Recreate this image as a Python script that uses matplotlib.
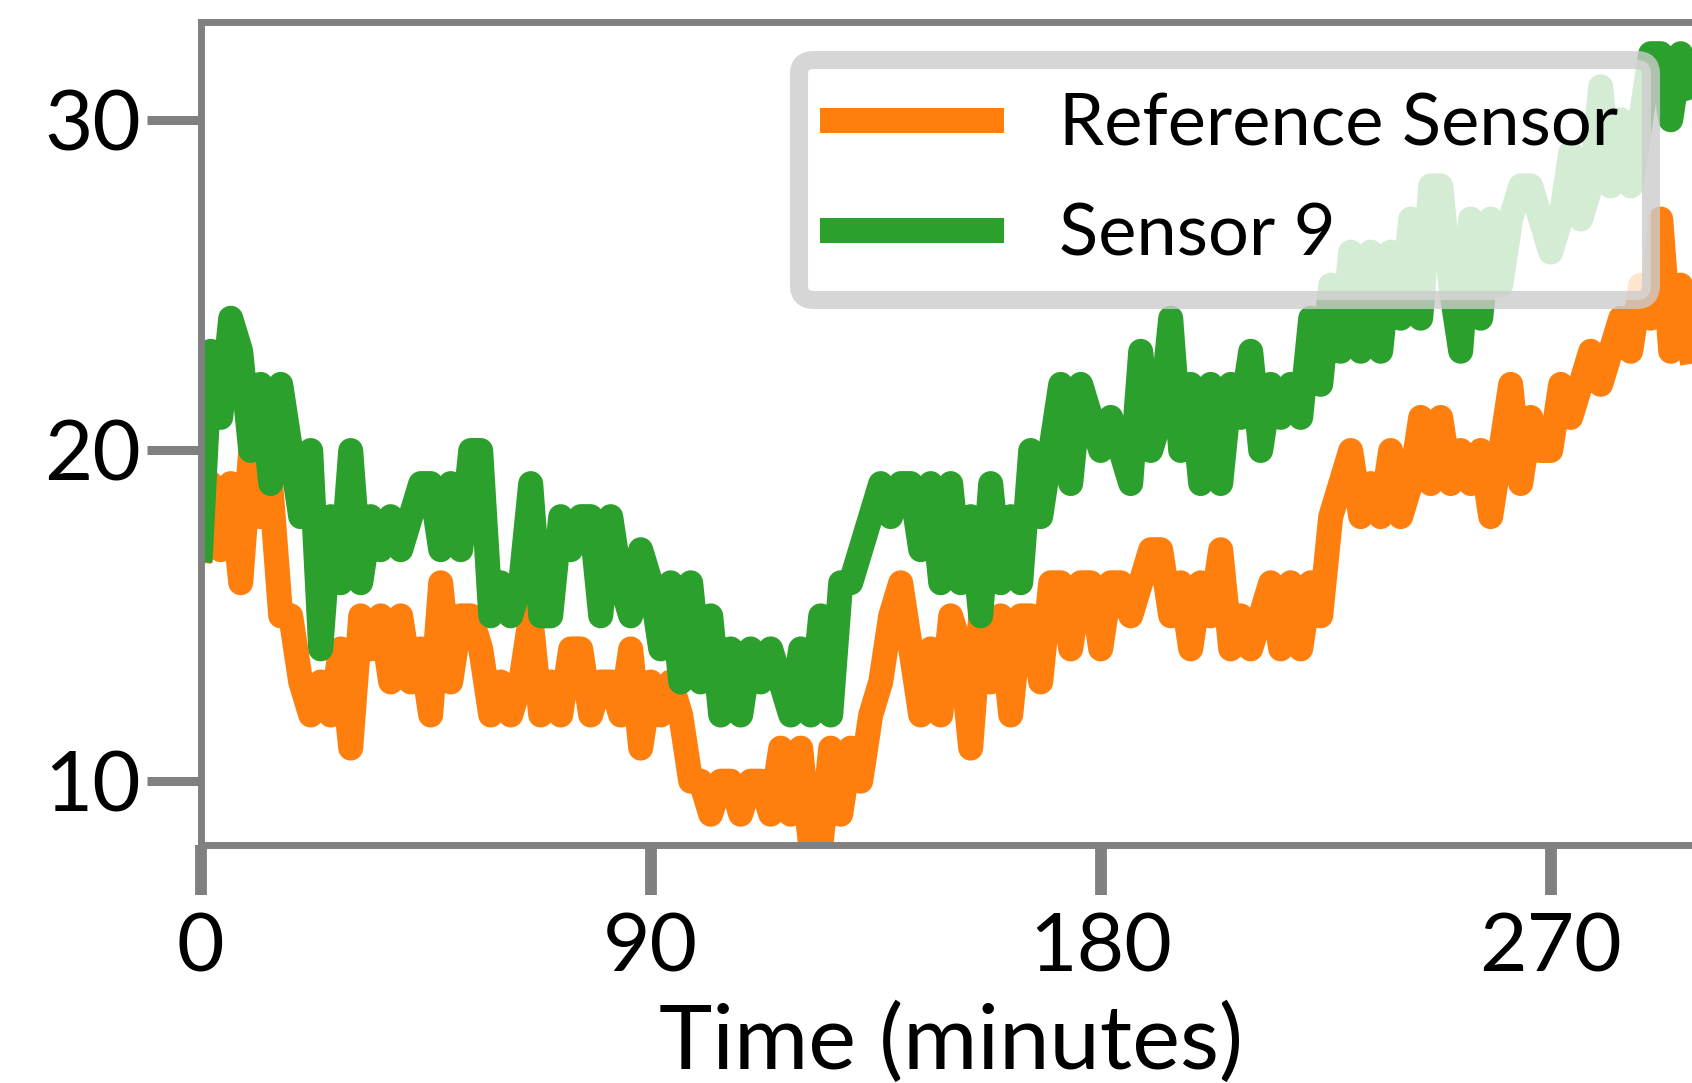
import numpy as np
import matplotlib
matplotlib.use("Agg")
from matplotlib import pyplot as plt

plt.rcParams['font.family'] = ['Lato', 'DejaVu Sans']

# readings every 2 minutes
minutes = np.arange(0, 300, 2)

reference_sensor = [
    17, 19, 17, 19, 16, 20, 18, 19, 15, 15, 13, 12, 13, 12, 14, 11, 15, 14, 15, 13,
    15, 13, 14, 12, 16, 13, 15, 15, 14, 12, 13, 12, 13, 15, 12, 13, 12, 14, 14, 12,
    13, 13, 12, 14, 11, 13, 12, 13, 12, 10, 10, 9, 10, 10, 9, 10, 10, 9, 11, 9,
    11, 8, 8, 11, 9, 11, 10, 12, 13, 15, 16, 14, 12, 14, 12, 15, 14, 11, 15, 13,
    15, 12, 15, 15, 13, 16, 16, 14, 16, 16, 14, 16, 16, 15, 16, 17, 17, 15, 16, 14,
    16, 15, 17, 14, 15, 14, 15, 16, 14, 16, 14, 16, 15, 18, 19, 20, 18, 19, 18, 20,
    18, 19, 21, 19, 21, 19, 20, 19, 20, 18, 20, 22, 19, 21, 20, 20, 22, 21, 22, 23,
    22, 23, 24, 23, 25, 24, 27, 23, 25, 23,
]

sensor_9 = [
    17, 23, 21, 24, 23, 20, 22, 19, 22, 20, 18, 20, 14, 18, 16, 20, 16, 18, 17, 18,
    17, 18, 19, 19, 17, 19, 17, 20, 20, 15, 16, 15, 16, 19, 15, 15, 18, 17, 18, 18,
    15, 18, 16, 15, 17, 16, 14, 16, 13, 16, 13, 15, 12, 14, 12, 14, 13, 14, 13, 12,
    14, 12, 15, 12, 16, 16, 17, 18, 19, 18, 19, 19, 17, 19, 16, 19, 16, 18, 15, 19,
    16, 18, 16, 20, 18, 20, 22, 19, 22, 21, 20, 21, 20, 19, 23, 20, 21, 24, 20, 22,
    19, 22, 19, 22, 21, 23, 20, 22, 21, 22, 21, 24, 22, 25, 23, 26, 23, 26, 23, 26,
    24, 27, 24, 28, 28, 25, 23, 27, 24, 27, 25, 27, 28, 28, 27, 26, 27, 29, 27, 28,
    31, 28, 30, 28, 30, 32, 32, 30, 32, 31,
]

W, H = 1692, 1083
fig = plt.figure(figsize=(W / 100, H / 100), dpi=100)
ax = fig.add_axes([200.7 / W, (H - 845) / H, 1500 / W, (845 - 21.6) / H])

ax.plot(minutes, reference_sensor, color='#ff7f0e', lw=18, label='Reference Sensor')
ax.plot(minutes, sensor_9, color='#2ca02c', lw=18, label='Sensor 9')

ax.set_xlim(0, 300)
ax.set_ylim(8.07, 32.97)
ax.set_xticks([0, 90, 180, 270])
ax.set_yticks([10, 20, 30])

for s in ax.spines.values():
    s.set_color('#808080')
    s.set_linewidth(5)
ax.tick_params(axis='y', length=39, width=6.5, color='#808080', labelsize=60, pad=4)
ax.tick_params(axis='x', length=36, width=8.5, color='#808080', labelsize=59, pad=12)
ax.set_xlabel('Time (minutes)', fontsize=65, labelpad=12)

leg = ax.legend(loc='upper right', bbox_to_anchor=(1651 / W, 1 - 60 / H),
                bbox_transform=fig.transFigure, borderaxespad=0, fontsize=52,
                handlelength=2.2, handletextpad=0.95, labelspacing=0.62,
                borderpad=0.45, fancybox=True, framealpha=0.8)
leg.get_frame().set_linewidth(13)

fig.savefig('out.png', dpi=100)
